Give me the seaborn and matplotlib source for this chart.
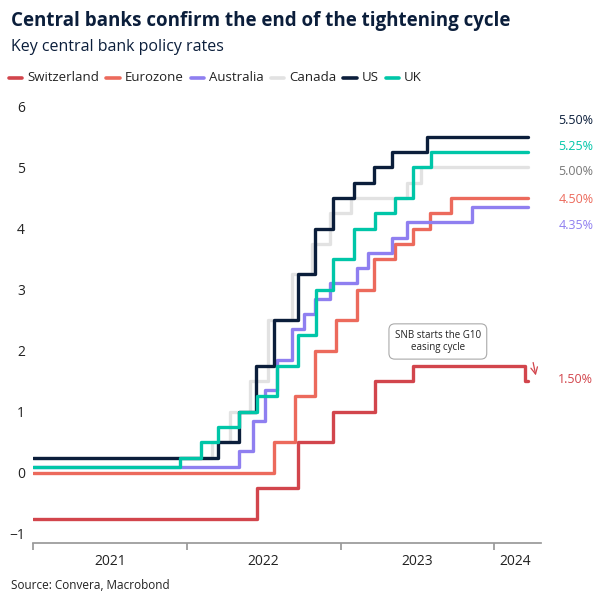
import matplotlib
matplotlib.use("Agg")
import matplotlib.pyplot as plt
import matplotlib.dates as mdates
import seaborn as sns
import pandas as pd

sns.set_theme(style="white")
plt.rcParams['font.family'] = ['Open Sans', 'DejaVu Sans']

END = "2024-03-21"

swiss_dates = ["2021-01-01", "2022-06-16", "2022-09-22", "2022-12-15", "2023-03-23", "2023-06-22", "2024-03-14"]
swiss_rates = [-0.75, -0.25, 0.5, 1.0, 1.5, 1.75, 1.5]

euro_dates = ["2021-01-01", "2022-07-27", "2022-09-14", "2022-11-02", "2022-12-21", "2023-02-08",
              "2023-03-22", "2023-05-10", "2023-06-21", "2023-08-02", "2023-09-20"]
euro_rates = [0.0, 0.5, 1.25, 2.0, 2.5, 3.0, 3.5, 3.75, 4.0, 4.25, 4.5]

aus_dates = ["2021-01-01", "2022-05-04", "2022-06-08", "2022-07-06", "2022-08-03", "2022-09-07", "2022-10-05",
             "2022-11-02", "2022-12-07", "2023-02-08", "2023-03-08", "2023-05-03", "2023-06-07", "2023-11-08"]
aus_rates = [0.1, 0.35, 0.85, 1.35, 1.85, 2.35, 2.6, 2.85, 3.1, 3.35, 3.6, 3.85, 4.1, 4.35]

can_dates = ["2021-01-01", "2022-03-02", "2022-04-13", "2022-06-01", "2022-07-13", "2022-09-07",
             "2022-10-26", "2022-12-07", "2023-01-25", "2023-06-07", "2023-07-12"]
can_rates = [0.25, 0.5, 1.0, 1.5, 2.5, 3.25, 3.75, 4.25, 4.5, 4.75, 5.0]

us_dates = ["2021-01-01", "2022-03-16", "2022-05-04", "2022-06-15", "2022-07-27", "2022-09-21",
            "2022-11-02", "2022-12-14", "2023-02-01", "2023-03-22", "2023-05-03", "2023-07-26"]
us_rates = [0.25, 0.5, 1.0, 1.75, 2.5, 3.25, 4.0, 4.5, 4.75, 5.0, 5.25, 5.5]

uk_dates = ["2021-01-01", "2021-12-16", "2022-02-03", "2022-03-17", "2022-05-05", "2022-06-16", "2022-08-04",
            "2022-09-22", "2022-11-03", "2022-12-15", "2023-02-02", "2023-03-23", "2023-05-11",
            "2023-06-22", "2023-08-03"]
uk_rates = [0.1, 0.25, 0.5, 0.75, 1.0, 1.25, 1.75, 2.25, 3.0, 3.5, 4.0, 4.25, 4.5, 5.0, 5.25]

series = [
    ("Switzerland", swiss_dates, swiss_rates, "#d2454c", "1.50%", 1.52),
    ("Eurozone", euro_dates, euro_rates, "#ec6a5c", "4.50%", 4.48),
    ("Australia", aus_dates, aus_rates, "#8f7ff0", "4.35%", 4.05),
    ("Canada", can_dates, can_rates, "#e2e2e2", "5.00%", 4.93),
    ("US", us_dates, us_rates, "#0b1e3b", "5.50%", 5.77),
    ("UK", uk_dates, uk_rates, "#00c6a8", "5.25%", 5.34),
]
label_colors = {"Canada": "#777777"}

frames = []
for name, d, r, *_ in series:
    df = pd.DataFrame({"date": pd.to_datetime(d + [END]), "rate": r + [r[-1]]})
    df["bank"] = name
    frames.append(df)
data = pd.concat(frames)

fig = plt.figure(figsize=(6.04, 6.04), dpi=100)
ax = fig.add_axes([0.055, 0.101, 0.84, 0.735])
palette = {s[0]: s[3] for s in series}
sns.lineplot(data=data, x="date", y="rate", hue="bank", palette=palette, ax=ax,
             drawstyle="steps-post", linewidth=2.4, legend=False, estimator=None)

ax.set_xlim(pd.Timestamp("2021-01-01"), pd.Timestamp("2024-04-20"))
ax.set_ylim(-1.15, 6.12)
ax.set_yticks(range(-1, 7))
ax.set_xlabel("")
ax.set_ylabel("")
for s in ["top", "right", "left"]:
    ax.spines[s].set_visible(False)
ax.spines["bottom"].set_color("#999999")
ax.xaxis.set_major_locator(mdates.YearLocator())
ax.xaxis.set_major_formatter(plt.NullFormatter())
ax.tick_params(axis="x", which="major", length=5, color="#999999", bottom=True)
ax.tick_params(axis="y", labelsize=10, colors="#222222", pad=6, length=0)
for yr, mid in [("2021", "2021-07-02"), ("2022", "2022-07-02"), ("2023", "2023-07-02"), ("2024", "2024-02-20")]:
    ax.text(pd.Timestamp(mid), -0.025, yr, transform=ax.get_xaxis_transform(),
            ha="center", va="top", fontsize=10, color="#222222")

for name, d, r, color, lab, ly in series:
    ax.text(1.035, ly, lab, transform=ax.get_yaxis_transform(), ha="left", va="center",
            fontsize=9, color=label_colors.get(name, color), clip_on=False)

ax.text(pd.Timestamp("2023-08-20"), 2.15, "SNB starts the G10\neasing cycle", ha="center", va="center",
        fontsize=7, color="#222222",
        bbox=dict(boxstyle="round,pad=0.6", fc="white", ec="#aaaaaa", lw=0.8))
ax.annotate("", xy=(pd.Timestamp("2024-04-10"), 1.55), xytext=(pd.Timestamp("2024-04-01"), 1.85),
            arrowprops=dict(arrowstyle="->", color="#d2454c", lw=0.9))

fig.text(0.018, 0.965, "Central banks confirm the end of the tightening cycle", fontsize=13.5,
         fontweight="bold", color="#0b1e3b", va="center")
fig.text(0.018, 0.922, "Key central bank policy rates", fontsize=11.5, color="#0b1e3b", va="center")

x = 0.015
for name, *_rest in series:
    color = _rest[2]
    fig.add_artist(plt.Line2D([x, x + 0.022], [0.871, 0.871], color=color, lw=2.6, transform=fig.transFigure))
    t = fig.text(x + 0.03, 0.871, name, fontsize=9.5, color="#222222", va="center")
    fig.canvas.draw()
    bb = t.get_window_extent().transformed(fig.transFigure.inverted())
    x = bb.x1 + 0.012

fig.text(0.018, 0.03, "Source: Convera, Macrobond", fontsize=8.5, color="#222222", va="center")
fig.savefig("out.png", dpi=100, facecolor="white")
